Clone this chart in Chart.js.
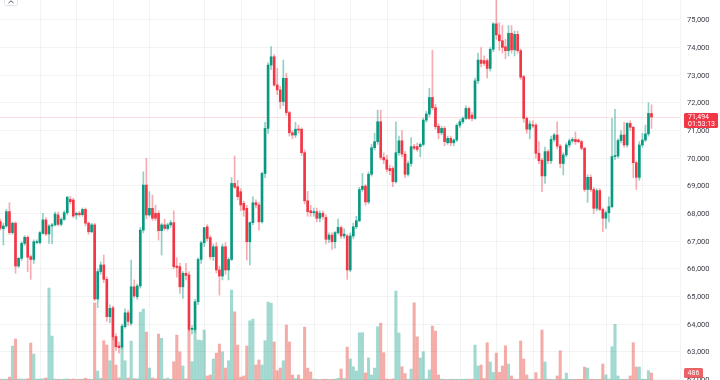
<!DOCTYPE html>
<html><head><meta charset="utf-8">
<script src="https://cdn.jsdelivr.net/npm/chart.js@4/dist/chart.umd.min.js"></script>
<style>html,body{margin:0;padding:0;background:#fff;overflow:hidden}#wrap{position:relative;width:720px;height:380px}</style>
</head><body><div id="wrap"><canvas id="c" width="720" height="380"></canvas></div>
<script>
const opens = [67710,67450,67550,68070,67310,67650,66100,66380,66920,67140,66440,66340,66950,66950,67280,67770,67260,67550,67590,67950,67610,67790,68030,68510,68490,67950,68010,67960,68150,67650,67340,67590,64910,65900,66140,65620,64270,64590,63550,63210,63180,63910,64410,64030,65350,64990,65380,67400,69030,67950,68190,68010,68010,67380,67590,67460,67590,67670,66100,66080,65350,65840,65780,63810,63810,64810,66340,66940,67520,67130,66440,66800,65960,65740,66800,65960,66340,69090,68970,68790,68370,68190,66980,67670,68390,68310,67700,69450,71080,73370,73670,72650,72470,72050,72890,71650,70920,70840,71050,71050,70200,68460,68100,68030,68070,67830,68010,67860,67070,67220,66980,67310,67490,67190,67190,65960,67190,67520,67740,68870,68990,68420,69420,70380,70600,71320,70030,69940,69630,69630,69150,70200,70630,70150,69420,69810,70420,70420,70420,70500,71380,71600,72200,71830,71160,70920,71080,70560,70720,70560,70660,71190,71320,71440,71800,71560,71440,72800,73550,73530,73530,73250,73940,74860,74460,74250,74030,73890,74520,73920,74480,73890,72950,71440,71050,71200,71200,70180,69930,69360,70240,69910,70680,70840,70440,69810,70120,70480,70630,70680,70660,70600,70360,68870,69310,68870,68190,68830,68150,67830,68030,68250,70060,70080,70640,70840,70480,71260,71120,69840,69310,70480,70660,70880,71620];
const highs = [67800,67650,68150,68390,67700,67700,66420,66980,67200,67200,66500,67050,67050,67350,68010,67850,67600,67650,68050,68050,67850,68100,68620,68620,68550,68050,68080,68200,68200,67700,67650,67650,66000,66250,66500,65700,64700,64650,63650,63350,64000,64550,64500,66320,65600,65450,67500,69510,70000,68790,68670,68300,68100,67650,67800,67650,67750,68100,66400,66200,65900,66200,65900,63950,64900,66400,67000,67500,67600,67200,66900,66950,66100,66900,66950,66400,69300,70080,69200,68900,68450,68300,67700,68600,68500,68400,69500,71300,73450,74040,73750,73250,72600,73550,73070,71700,71000,71300,71200,71100,70300,68800,68300,68200,68200,68100,68100,67950,67300,67300,67350,67800,67550,67450,67250,67300,67650,67900,68950,69450,69050,69500,70500,70900,71740,71740,70200,70100,69750,69700,71320,70800,71000,70250,69900,70750,70500,70550,70550,71450,71700,72530,73910,71950,71250,71150,71150,70800,70800,70700,71250,71400,71500,71900,71850,71650,72900,73800,74000,73700,73600,74000,74900,75720,74900,74800,74300,74800,74800,74600,74600,73950,73000,71500,71350,71350,71250,70600,70000,70400,70300,70800,70900,71320,70500,70200,70550,70700,70750,70950,70700,70650,70400,69400,69400,68950,68900,68900,68200,68100,68600,71440,71770,70700,71000,71300,71300,71350,71150,69900,70600,70900,71200,72010,71930];
const lows = [67400,66860,67500,67250,67250,65840,66050,66300,66850,65900,65620,66200,66900,66900,67250,67200,66920,66900,67550,67550,67550,67750,67950,68350,67850,67800,67900,67900,67550,67250,67300,64850,64600,65800,65500,64100,64050,63450,63050,62950,63100,63850,63950,63950,64950,64900,65300,67300,67800,67900,67750,67750,67040,66500,67400,67400,67500,66000,65700,65110,64930,65600,63750,63650,63700,64700,66200,66800,67000,66350,66300,65850,65050,65600,65800,65600,66300,68900,68500,68100,67900,66320,66140,67600,68200,67400,67650,69300,70900,73200,72600,72300,71800,71900,71550,70800,70700,70750,70900,70100,68350,67900,67900,67900,67700,67700,67800,66900,66950,66700,66750,67250,67100,67100,65620,65900,67100,67450,67700,68800,68300,68350,69350,70300,70500,69950,69800,69500,69400,68970,69100,70100,70050,69300,69350,69700,70300,70250,70050,70450,71300,71500,71750,71050,70700,70850,70450,70500,70450,70450,70600,71100,71250,71400,71400,71350,71400,72700,73300,73350,72900,73150,73850,74300,73900,73800,73600,73700,73800,73700,73800,72850,71300,70900,70700,71100,70000,69800,68790,69090,69800,69800,70600,70350,69650,69400,70050,70400,70550,70500,70550,70300,68800,68400,68800,68000,68100,68100,67340,67460,67700,68200,69950,70000,70550,70400,70400,71000,69300,68870,69200,70400,70600,70800,71080];
const closes = [67470,67550,68070,67310,67650,66100,66380,66920,67140,66420,66340,66980,66980,67310,67770,67260,67550,67590,67980,67610,67790,68030,68590,68430,67910,68010,67960,68150,67650,67340,67590,64910,65900,66140,65620,64270,64570,63550,63180,63150,63930,64410,64100,65350,65020,65380,67400,69030,67950,68190,67830,67830,67380,67590,67460,67590,67670,66080,66050,65350,65840,65760,63810,63850,64810,66340,66940,67490,67100,66440,66800,65960,65740,66800,65960,66340,69090,68950,68610,68310,68130,66980,67670,68390,68310,67700,69450,71080,73370,73670,72650,72470,72050,72890,71650,70920,70840,71050,71020,70200,68460,68070,68030,68070,67830,68010,67890,67070,67220,66980,67310,67500,67190,67260,65960,67190,67520,67740,68870,68990,68420,69420,70380,70600,71320,70030,69940,69600,69550,69150,70200,70630,70150,69420,69810,70420,70360,70320,70500,71380,71600,72200,71830,71140,70920,71080,70600,70720,70560,70660,71190,71320,71440,71800,71440,71440,72800,73550,73430,73430,73250,73940,74860,74460,74250,74010,73890,74520,73920,74480,73890,72930,71440,71050,71240,71170,70180,69910,69360,70240,69910,70680,70840,70440,69810,70120,70480,70630,70680,70600,70600,70360,68870,69310,68870,68190,68830,68150,67830,68030,68250,70060,70080,70640,70840,70480,71260,71120,69840,69310,70480,70660,70880,71620,71494];
const volumes = [40,60,50,200,2360,2850,80,60,50,90,2570,1800,60,70,90,140,6390,3050,60,50,40,60,80,50,70,40,50,60,120,60,50,5360,620,120,2730,2430,1340,2980,1040,150,2360,1340,140,2700,100,90,4720,4930,3330,830,140,90,3190,2900,80,130,60,1270,3120,1960,970,80,3470,1270,3540,2780,2740,3470,280,350,1460,1870,2500,1960,830,1340,6250,4740,2430,200,280,2360,4110,4230,1040,1390,1040,2730,5410,5340,2640,650,830,1340,3820,2640,350,100,350,60,3680,830,560,60,50,40,50,60,40,50,60,120,760,100,2290,1460,920,620,3280,3280,490,1530,350,830,3700,3950,1900,60,50,80,6180,3260,920,450,60,760,5360,3000,1530,1960,80,690,3750,3400,350,60,50,40,50,60,50,40,50,60,50,60,2430,970,1040,100,2590,1250,530,1870,530,970,2380,1110,280,60,50,2710,1460,350,60,50,510,60,3470,1250,60,50,40,280,2030,60,480,50,50,50,50,50,900,830,50,50,50,50,1110,350,60,2310,3870,280,50,50,50,280,2590,900,900,60,50,650,486];
const priceTicks = [62000,63000,64000,65000,66000,67000,68000,69000,70000,71000,72000,73000,74000,75000];
const timeGridIdx = [13,25,37,49,67,79,91,103,115,127,139,151,163,175,187,199,211];
const countdown = '01:53:13';

const UP = '#089981', DN = '#f23645';
const GRID = 'rgba(42,46,57,0.06)';
const FONT = 'Roboto, "DejaVu Sans", sans-serif';
const idx = opens.map((_, i) => i);
const isUp = i => closes[i] >= opens[i];
const last = closes.length - 1;

const overlay = {
  id: 'overlay',
  beforeDatasetsDraw(chart) {
    const {ctx, chartArea: a, scales: {x, y}} = chart;
    ctx.save();
    ctx.strokeStyle = GRID; ctx.lineWidth = 1;
    timeGridIdx.forEach(v => {
      const px = Math.round(x.getPixelForValue(v)) + 0.5;
      ctx.beginPath(); ctx.moveTo(px, a.top); ctx.lineTo(px, a.bottom); ctx.stroke();
    });
    const py = Math.round(y.getPixelForValue(closes[last])) + 0.5;
    ctx.strokeStyle = 'rgba(242,54,69,0.16)';
    ctx.beginPath(); ctx.moveTo(a.left, py); ctx.lineTo(a.right, py); ctx.stroke();
    ctx.restore();
  },
  afterDraw(chart) {
    const {ctx, chartArea: a, scales: {y, yv}} = chart;
    ctx.save();
    // price scale labels
    ctx.fillStyle = '#3a3d45';
    ctx.font = '7.5px ' + FONT;
    ctx.textAlign = 'left'; ctx.textBaseline = 'middle';
    priceTicks.forEach(v => {
      ctx.fillText(v.toLocaleString('en-US'), a.right + 7, y.getPixelForValue(v) + 0.5);
    });
    const py = y.getPixelForValue(closes[last]);
    const col = isUp(last) ? UP : DN;
    ctx.fillStyle = col;
    ctx.beginPath(); ctx.roundRect(684, py - 4, 34, 15, 1.5); ctx.fill();
    ctx.fillStyle = '#fff';
    ctx.font = '7px ' + FONT;
    ctx.fillText(closes[last].toLocaleString('en-US'), 688, py + 0.6);
    ctx.fillText(countdown, 688, py + 7.6);
    const vy = yv.getPixelForValue(volumes[last]);
    ctx.fillStyle = 'rgba(232,70,75,0.85)';
    ctx.beginPath(); ctx.roundRect(684, vy - 5, 19, 10, 1.5); ctx.fill();
    ctx.fillStyle = '#fff';
    ctx.textAlign = 'center';
    ctx.fillText(String(volumes[last]), 693.5, vy + 0.3);
    // small collapse button top-left
    ctx.fillStyle = '#fff'; ctx.strokeStyle = '#e0e3eb'; ctx.lineWidth = 1;
    ctx.beginPath(); ctx.roundRect(4.5, -4.5, 13, 10, 2); ctx.fill(); ctx.stroke();
    ctx.strokeStyle = '#50535e';
    ctx.beginPath(); ctx.moveTo(8.5, 3); ctx.lineTo(11, 0.8); ctx.lineTo(13.5, 3); ctx.stroke();
    ctx.restore();
  }
};

new Chart(document.getElementById('c'), {
  type: 'bar',
  data: {
    datasets: [
      {
        label: 'body', yAxisID: 'y', order: 1, grouped: false,
        data: idx.map(i => ({x: i, y: [opens[i], closes[i]]})),
        backgroundColor: c => isUp(c.dataIndex) ? UP : DN,
        barThickness: 2, minBarLength: 1, borderWidth: 0
      },
      {
        label: 'wick', yAxisID: 'y', order: 2, grouped: false,
        data: idx.map(i => ({x: i, y: [lows[i], highs[i]]})),
        backgroundColor: c => isUp(c.dataIndex) ? 'rgba(8,153,129,0.45)' : 'rgba(242,54,69,0.42)',
        barThickness: 1, borderWidth: 0
      },
      {
        label: 'volume', yAxisID: 'yv', order: 3, grouped: false,
        data: idx.map(i => ({x: i, y: volumes[i]})),
        backgroundColor: c => isUp(c.dataIndex) ? 'rgba(8,153,129,0.38)' : 'rgba(230,70,65,0.45)',
        barThickness: 2.4, borderWidth: 0
      }
    ]
  },
  options: {
    responsive: false, animation: false, events: [],
    layout: {padding: 0, autoPadding: false},
    plugins: {legend: {display: false}, tooltip: {enabled: false}},
    scales: {
      x: {type: 'linear', min: -0.1, max: 223.36, offset: false, display: false, grid: {display: false}},
      y: {
        position: 'right', min: 61980, max: 75723, beginAtZero: false,
        afterFit: s => { s.width = 40; },
        afterBuildTicks: s => { s.ticks = priceTicks.map(v => ({value: v})); },
        grid: {color: GRID, drawTicks: false},
        border: {display: true, color: GRID},
        ticks: {display: false, padding: 0}
      },
      yv: {display: false, min: 0, max: 26400, beginAtZero: true}
    }
  },
  plugins: [overlay]
});
</script>
</body></html>
